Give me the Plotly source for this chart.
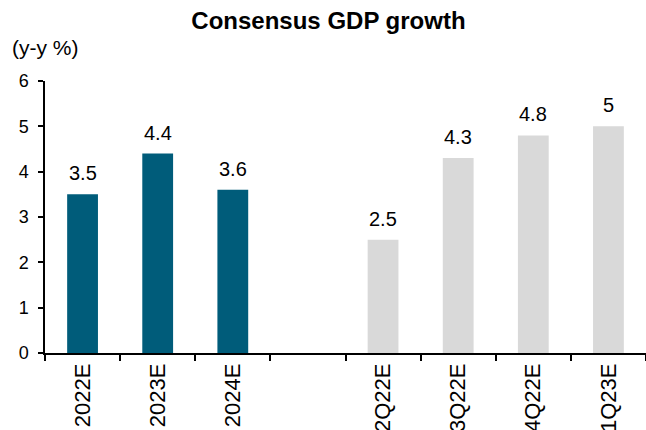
import plotly.graph_objects as go

# Consensus GDP growth forecasts (y-y %)
annual_cats = ["2022E", "2023E", "2024E"]
annual_vals = [3.5, 4.4, 3.6]
quarter_cats = ["2Q22E", "3Q22E", "4Q22E", "1Q23E"]
quarter_vals = [2.5, 4.3, 4.8, 5]
gap_cat = " "
all_cats = annual_cats + [gap_cat] + quarter_cats

y_ticks = [0, 1, 2, 3, 4, 5, 6]

FONT = "Liberation Sans, Arial, sans-serif"
TEAL = "#005C7A"
GREY = "#D9D9D9"
LABEL_SIZE = 20


def fmt(v):
    return f"{v:g}"


fig = go.Figure()
fig.add_trace(go.Bar(
    x=annual_cats, y=annual_vals,
    marker=dict(color=TEAL, line=dict(width=0)),
    width=0.41,
))
fig.add_trace(go.Bar(
    x=quarter_cats, y=quarter_vals,
    marker=dict(color=GREY, line=dict(width=0)),
    width=0.41,
))

# value labels sitting above each bar
value_labels = [
    dict(x=c, y=v, text=fmt(v), xref="x", yref="y",
         xanchor="center", yanchor="bottom", yshift=8, showarrow=False,
         font=dict(family=FONT, size=LABEL_SIZE, color="black"))
    for c, v in zip(annual_cats + quarter_cats, annual_vals + quarter_vals)
]

fig.update_layout(
    width=646, height=430,
    margin=dict(l=45, r=0, t=81, b=77, autoexpand=False),
    paper_bgcolor="white", plot_bgcolor="white",
    showlegend=False,
    barmode="overlay",
    font=dict(family=FONT, size=17, color="black"),
    title=dict(
        text="<b>Consensus GDP growth</b>",
        x=0.5085, xanchor="center", y=0.951, yanchor="middle",
        font=dict(family=FONT, size=24, color="black"),
    ),
    xaxis=dict(
        categoryorder="array", categoryarray=all_cats,
        range=[-0.5, 7.5],
        showline=True, linecolor="black", linewidth=1.5,
        ticks="outside", ticklen=6, tickcolor="black", tickwidth=1.5,
        tickson="boundaries",
        tickangle=-90,
        tickfont=dict(family=FONT, size=22, color="black"),
        showgrid=False, zeroline=False,
        automargin=False,
    ),
    yaxis=dict(
        range=[0, 6], tickvals=y_ticks,
        showline=True, linecolor="black", linewidth=1.5,
        ticks="outside", ticklen=5, tickcolor="black", tickwidth=1.5,
        ticklabelstandoff=6,
        tickfont=dict(family=FONT, size=18, color="black"),
        showgrid=False, zeroline=False,
        automargin=False,
    ),
    annotations=value_labels + [dict(
        text="(y-y %)", xref="paper", yref="paper",
        x=-0.058, y=1.0, xanchor="left", yanchor="bottom", yshift=20,
        showarrow=False,
        font=dict(family=FONT, size=21, color="black"),
    )],
)

fig.write_html("out.html")
